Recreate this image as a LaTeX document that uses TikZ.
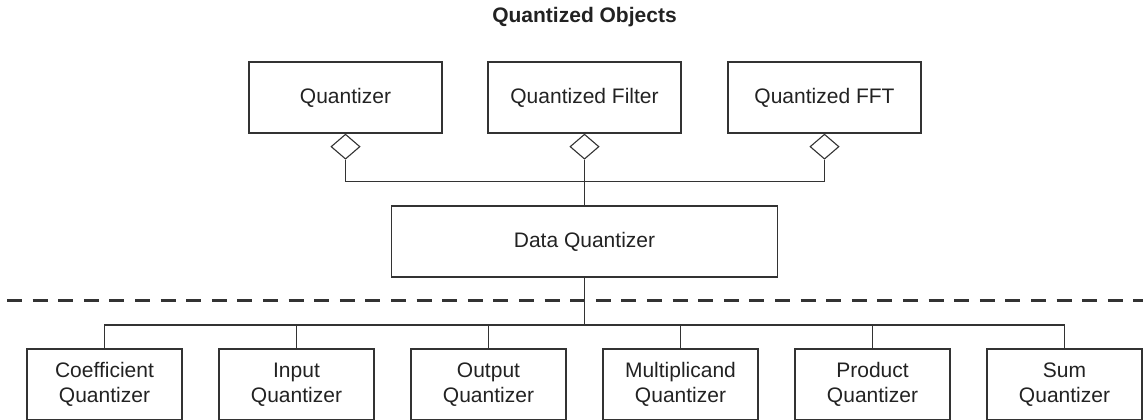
\documentclass[tikz,border=0pt]{standalone}
\usepackage{fontspec}
\setmainfont{Liberation Sans}
\usetikzlibrary{shapes.geometric}
\definecolor{linec}{HTML}{333333}
\definecolor{textc}{HTML}{222222}
\tikzset{
  box/.style={draw=linec, line width=1.2pt, minimum width=193pt, minimum height=71pt, inner sep=0pt, text=textc, font=\fontsize{21}{25}\selectfont, align=center},
  sbox/.style={box, minimum width=155pt},
  agg/.style={draw=linec, line width=1.1pt, shape=diamond, inner sep=0pt, minimum width=29pt, minimum height=25pt, fill=white, anchor=north},
  conn/.style={draw=linec, line width=1.1pt},
  dashline/.style={draw=linec, line width=3pt, dash pattern=on 15pt off 10.6pt},
}
\begin{document}
\begin{tikzpicture}[x=1pt,y=-1pt]
\useasboundingbox (0,0) rectangle (1143,420);
\node[text=textc, font=\bfseries\fontsize{21}{25}\selectfont, anchor=base] (title) at (584.5,23) {Quantized Objects};
\node[box] (q) at (345.5,97.5) {Quantizer};
\node[box] (qf) at (584.5,97.5) {Quantized Filter};
\node[box] (qfft) at (824.5,97.5) {Quantized FFT};
\node[agg] (d1) at (q.south) {};
\node[agg] (d2) at (qf.south) {};
\node[agg] (d3) at (qfft.south) {};
\node[box, minimum width=386pt] (dq) at (584.5,241.5) {Data Quantizer};
\coordinate (j) at (584.5,181.5);
\draw[conn] (d1.south) |- (j) -| (d3.south);
\draw[conn] (d2.south) -- (dq.north);
\coordinate (dl) at (7,300);
\coordinate (dr) at (1143,300);
\draw[dashline] (dl) -- (dr);
\node[sbox] (b1) at (104.5,384.5) {Coefficient\\Quantizer};
\node[sbox] (b2) at (296.5,384.5) {Input\\Quantizer};
\node[sbox] (b3) at (488.5,384.5) {Output\\Quantizer};
\node[sbox] (b4) at (680.5,384.5) {Multiplicand\\Quantizer};
\node[sbox] (b5) at (872.5,384.5) {Product\\Quantizer};
\node[sbox] (b6) at (1064.5,384.5) {Sum\\Quantizer};
\coordinate (bj) at (584.5,325);
\draw[conn] (dq.south) -- (bj);
\draw[conn] (b1.north) |- (bj) -| (b6.north);
\foreach \n in {b2,b3,b4,b5} \draw[conn] (\n.north) -- (\n.north |- bj);
\end{tikzpicture}
\end{document}
